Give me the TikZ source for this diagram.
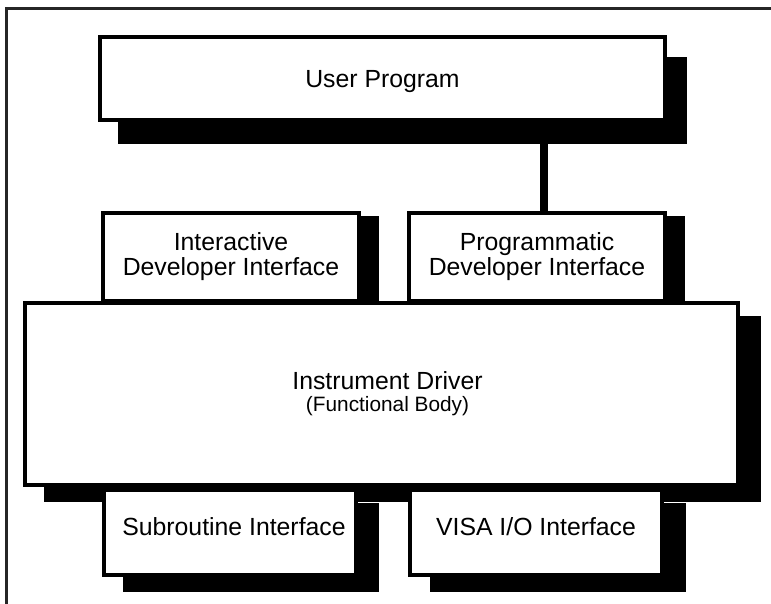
\documentclass[tikz,border=0pt]{standalone}
\usepackage{fontspec}
\setmainfont{Liberation Sans}
\usetikzlibrary{shadows}
\begin{document}
\begin{tikzpicture}[x=1pt,y=-1pt,
  box/.style={draw=black, line width=4pt, fill=white, inner sep=0pt, align=center,
    font=\fontsize{24.8}{25}\selectfont},
  shad/.style 2 args={drop shadow={shadow xshift=#1pt, shadow yshift=-#2pt, opacity=1,
    fill=black, draw=black, line width=4pt}},
  frame/.style={line width=2.5pt, draw=black!85},
  link/.style={line width=8pt, draw=black}]
\useasboundingbox (0,0) rectangle (771,604);
% outer frame (only the left and top edges are visible)
\draw[frame] (6.5,604) -- (6.5,8.5) -- (771,8.5);
% user program
\node[box, shad={19.5}{22}, minimum width=565pt, minimum height=83pt, text depth=0pt]
  (up) at (382.5,78.5) {User Program};
\coordinate (cx) at (544,0);
% developer interfaces
\node[box, shad={18}{5}, minimum width=256pt, minimum height=88pt]
  (idi) at (231,257) {Interactive\\Developer Interface};
\node[box, shad={18}{5}, minimum width=256pt, minimum height=88pt]
  (pdi) at (537,257) {Programmatic\\Developer Interface};
\draw[link] (up.south -| cx) -- (pdi.north -| cx);
% instrument driver
\node[box, shad={21}{14.5}, minimum width=713pt, minimum height=182pt]
  (drv) at (381.5,394) {\hspace*{12pt}Instrument Driver\\[-3pt]\hspace*{12pt}{\fontsize{20.8}{22}\selectfont (Functional Body)}};
% lower interfaces
\node[box, shad={20.5}{15}, minimum width=252pt, minimum height=85pt, text depth=12pt]
  (sub) at (230,532.5) {\hspace*{8pt}Subroutine Interface};
\node[box, shad={21.5}{15}, minimum width=252pt, minimum height=85pt, text depth=12pt]
  (visa) at (536,532.5) {VISA I/O Interface};
\end{tikzpicture}
\end{document}
